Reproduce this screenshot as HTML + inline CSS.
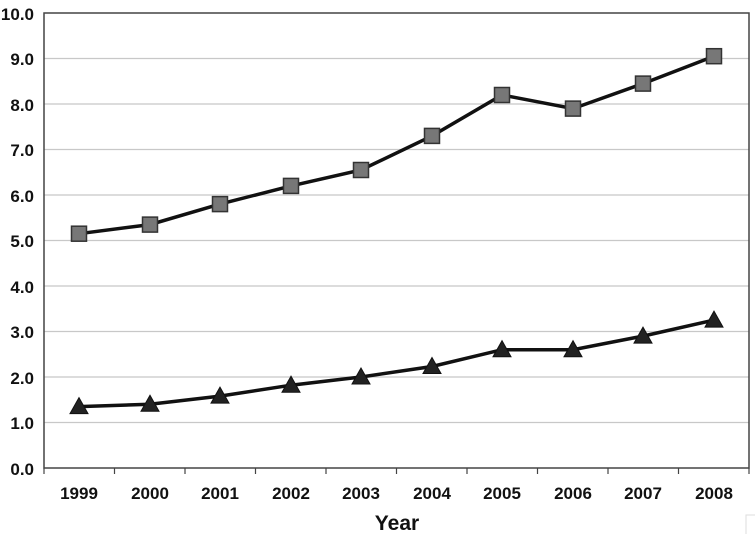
<!DOCTYPE html>
<html><head><style>body{margin:0;background:#fff}svg{display:block}</style></head><body>
<svg width="755" height="534" xmlns="http://www.w3.org/2000/svg" font-family="Liberation Sans, sans-serif" font-weight="bold">
<g stroke="#c8c8c8" stroke-width="1.2">
<line x1="44" x2="749" y1="58.5" y2="58.5"/><line x1="44" x2="749" y1="104" y2="104"/><line x1="44" x2="749" y1="149.5" y2="149.5"/><line x1="44" x2="749" y1="195" y2="195"/><line x1="44" x2="749" y1="240.5" y2="240.5"/><line x1="44" x2="749" y1="286" y2="286"/><line x1="44" x2="749" y1="331.5" y2="331.5"/><line x1="44" x2="749" y1="377" y2="377"/><line x1="44" x2="749" y1="422.5" y2="422.5"/>
</g>
<rect x="44" y="13" width="705" height="455" fill="none" stroke="#444" stroke-width="1.5"/>
<g stroke="#444" stroke-width="1.2">
<line x1="44" x2="44" y1="468" y2="474"/><line x1="114.5" x2="114.5" y1="468" y2="474"/><line x1="185" x2="185" y1="468" y2="474"/><line x1="255.5" x2="255.5" y1="468" y2="474"/><line x1="326" x2="326" y1="468" y2="474"/><line x1="396.5" x2="396.5" y1="468" y2="474"/><line x1="467" x2="467" y1="468" y2="474"/><line x1="537.5" x2="537.5" y1="468" y2="474"/><line x1="608" x2="608" y1="468" y2="474"/><line x1="678.5" x2="678.5" y1="468" y2="474"/><line x1="749" x2="749" y1="468" y2="474"/>
</g>
<g font-size="17" text-anchor="end" fill="#111">
<text x="34" y="20">10.0</text><text x="34" y="65">9.0</text><text x="34" y="111">8.0</text><text x="34" y="156">7.0</text><text x="34" y="202">6.0</text><text x="34" y="247">5.0</text><text x="34" y="293">4.0</text><text x="34" y="338">3.0</text><text x="34" y="384">2.0</text><text x="34" y="429">1.0</text><text x="34" y="475">0.0</text>
</g>
<g font-size="17" text-anchor="middle" fill="#111">
<text x="79" y="499">1999</text><text x="150" y="499">2000</text><text x="220" y="499">2001</text><text x="291" y="499">2002</text><text x="361" y="499">2003</text><text x="432" y="499">2004</text><text x="502" y="499">2005</text><text x="573" y="499">2006</text><text x="643" y="499">2007</text><text x="714" y="499">2008</text>
</g>
<text x="397" y="530" font-size="21" text-anchor="middle" fill="#111">Year</text>
<polyline fill="none" stroke="#111" stroke-width="3.5" points="79,233.7 150,224.6 220,204.1 291,185.9 361,170 432,135.9 502,95 573,108.6 643,83.6 714,56.2"/>
<g fill="#777" stroke="#333" stroke-width="1.5">
<rect x="71.5" y="226.2" width="15" height="15"/><rect x="142.5" y="217.1" width="15" height="15"/><rect x="212.5" y="196.6" width="15" height="15"/><rect x="283.5" y="178.4" width="15" height="15"/><rect x="353.5" y="162.5" width="15" height="15"/><rect x="424.5" y="128.4" width="15" height="15"/><rect x="494.5" y="87.5" width="15" height="15"/><rect x="565.5" y="101.1" width="15" height="15"/><rect x="635.5" y="76.1" width="15" height="15"/><rect x="706.5" y="48.7" width="15" height="15"/>
</g>
<polyline fill="none" stroke="#111" stroke-width="3.5" points="79,406.6 150,404.3 220,396.1 291,385.2 361,377 432,366.5 502,349.7 573,349.7 643,336.1 714,320.1"/>
<g fill="#222" stroke="#111" stroke-width="1">
<polygon points="79,397.6 70,413.6 88,413.6"/><polygon points="150,395.3 141,411.3 159,411.3"/><polygon points="220,387.1 211,403.1 229,403.1"/><polygon points="291,376.2 282,392.2 300,392.2"/><polygon points="361,368 352,384 370,384"/><polygon points="432,357.5 423,373.5 441,373.5"/><polygon points="502,340.7 493,356.7 511,356.7"/><polygon points="573,340.7 564,356.7 582,356.7"/><polygon points="643,327.1 634,343.1 652,343.1"/><polygon points="714,311.1 705,327.1 723,327.1"/>
</g>
<rect x="746" y="515" width="12" height="22" fill="none" stroke="#ddd"/>
</svg>
</body></html>
